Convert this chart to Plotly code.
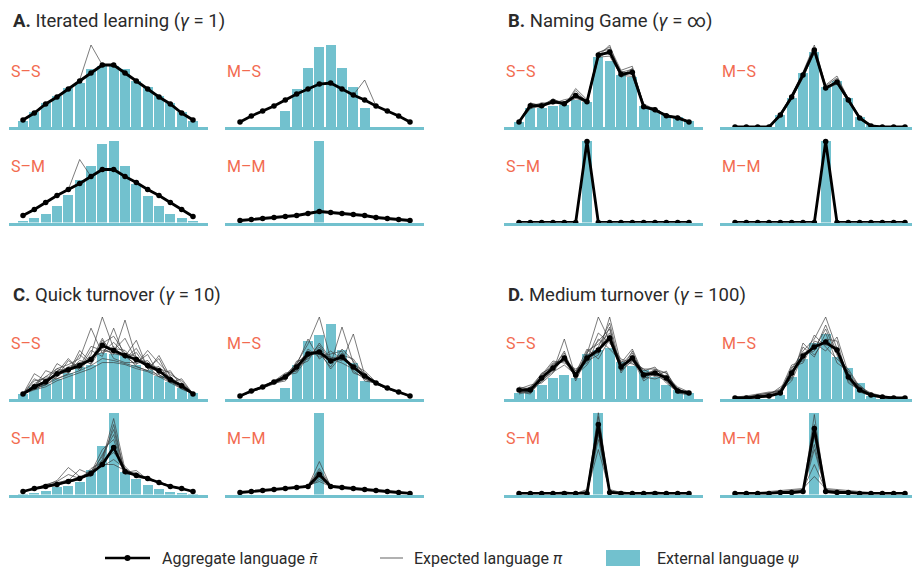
import plotly.graph_objects as go

W, H = 912, 568
FONT = "Roboto, sans-serif"
TEAL = "#72C1CE"
SALMON = "#F26B50"

positions = list(range(16))
panel_titles = {
    "A": "Iterated learning (<i>γ</i> = 1)",
    "B": "Naming Game (<i>γ</i> = ∞)",
    "C": "Quick turnover (<i>γ</i> = 10)",
    "D": "Medium turnover (<i>γ</i> = 100)",
}
subplot_labels = ["S–S", "M–S", "S–M", "M–M"]
legend_labels = [
    "Aggregate language <span style=\"font-family:'DejaVu Sans';font-style:italic;font-size:14px\">π\u0304</span>",
    "Expected language <i>π</i>",
    "External language <i>ψ</i>",
]

# ---------------- Panel A ----------------
A_SS_bar = [6, 15, 24, 31, 39, 44, 58, 61, 61, 58, 46, 40, 31, 24, 15, 6]
A_SS_agg = [7, 14, 23, 30, 38, 46, 54, 62, 62, 54, 46, 38, 30, 23, 14, 7]
A_SS_exp = [[7, 14, 22, 31, 38, 47, 82, 62, 61, 55, 45, 38, 31, 22, 15, 7]]

A_MS_bar = [0, 0, 0, 0, 16, 38, 59, 80, 82, 59, 40, 19, 0, 0, 0, 0]
A_MS_agg = [5, 11, 16, 21, 27, 33, 38, 43, 44, 38, 32, 27, 21, 16, 11, 5]
A_MS_exp = [[5, 11, 16, 21, 27, 33, 38, 43, 43, 38, 32, 47, 21, 16, 11, 5]]

A_SM_bar = [2, 5, 9, 17, 28, 43, 57, 79, 82, 57, 39, 27, 17, 9, 5, 2]
A_SM_agg = [7, 13, 20, 27, 33, 39, 46, 53, 53, 46, 40, 33, 27, 20, 13, 6]
A_SM_exp = [[7, 13, 20, 27, 33, 63, 46, 53, 53, 46, 40, 33, 27, 20, 13, 6]]

A_MM_bar = [0, 0, 0, 0, 0, 0, 0, 82, 0, 0, 0, 0, 0, 0, 0, 0]
A_MM_agg = [2, 3, 4, 5, 6, 7, 9, 11, 10, 9, 8, 7, 5, 4, 3, 2]
A_MM_exp = [[2, 3, 4, 5, 6, 7, 9, 12, 10, 9, 8, 7, 5, 4, 3, 2]]

# ---------------- Panel B ----------------
B_SS_bar = [5, 19, 19, 21, 22, 27, 25, 69, 65, 51, 49, 21, 17, 12, 10, 6]
B_SS_agg = [5, 21, 21, 25, 23, 31, 25, 71, 74, 52, 54, 20, 17, 11, 9, 5]
B_SS_exp = [
    [5, 23, 22, 27, 24, 33, 26, 74, 77, 54, 57, 21, 18, 12, 10, 5],
    [5, 20, 24, 23, 27, 29, 24, 70, 81, 50, 58, 22, 16, 13, 8, 5],
    [5, 22, 19, 26, 21, 38, 27, 72, 72, 55, 52, 19, 18, 10, 11, 5],
    [5, 19, 21, 24, 25, 30, 23, 68, 76, 49, 55, 23, 17, 12, 9, 5],
    [5, 24, 20, 28, 22, 36, 25, 73, 79, 56, 60, 20, 19, 11, 10, 5],
    [5, 18, 22, 23, 24, 28, 26, 69, 70, 51, 50, 21, 15, 12, 8, 5],
]

B_MS_bar = [0, 0, 0, 0, 12, 29, 54, 75, 40, 46, 29, 10, 2, 0, 0, 0]
B_MS_agg = [0, 0, 0, 0, 12, 30, 52, 77, 39, 45, 27, 9, 1, 0, 0, 0]
B_MS_exp = [
    [0, 0, 0, 0, 13, 32, 55, 82, 41, 49, 28, 10, 1, 0, 0, 0],
    [0, 0, 0, 0, 11, 28, 50, 74, 38, 43, 26, 8, 1, 0, 0, 0],
    [0, 0, 0, 0, 14, 31, 54, 79, 37, 47, 29, 10, 2, 0, 0, 0],
    [0, 0, 0, 0, 10, 29, 49, 75, 40, 44, 25, 9, 1, 0, 0, 0],
    [0, 0, 0, 0, 12, 33, 53, 78, 42, 51, 28, 8, 1, 0, 0, 0],
]

B_SM_bar = [0, 0, 0, 0, 0, 0, 82, 0, 0, 0, 0, 0, 0, 0, 0, 0]
B_SM_agg = [0, 0, 0, 0, 0, 0, 81, 0, 0, 0, 0, 0, 0, 0, 0, 0]
B_SM_exp = [
    [0, 0, 0, 0, 0, 0, 82, 0, 0, 0, 0, 0, 0, 0, 0, 0],
    [0, 0, 0, 0, 0, 0, 80, 0, 0, 0, 0, 0, 0, 0, 0, 0],
]

B_MM_bar = [0, 0, 0, 0, 0, 0, 0, 0, 82, 0, 0, 0, 0, 0, 0, 0]
B_MM_agg = [0, 0, 0, 0, 0, 0, 0, 0, 81, 0, 0, 0, 0, 0, 0, 0]
B_MM_exp = [
    [0, 0, 0, 0, 0, 0, 0, 0, 82, 0, 0, 0, 0, 0, 0, 0],
    [0, 0, 0, 0, 0, 0, 0, 0, 80, 0, 0, 0, 0, 0, 0, 0],
]

# ---------------- Panel C ----------------
C_SS_bar = [5, 12, 15, 20, 26, 32, 34, 45, 44, 42, 34, 29, 23, 17, 11, 6]
C_SS_agg = [5, 12, 17, 25, 29, 33, 39, 53, 48, 43, 39, 33, 28, 19, 13, 5]
C_SS_exp = [
    [5, 15, 22, 30, 34, 40, 70, 45, 52, 40, 46, 30, 32, 20, 14, 5],
    [5, 10, 14, 22, 38, 30, 44, 81, 50, 48, 35, 38, 26, 22, 12, 5],
    [5, 25, 18, 30, 26, 48, 36, 55, 62, 45, 42, 30, 40, 18, 15, 5],
    [5, 12, 28, 24, 32, 35, 40, 50, 44, 78, 40, 36, 25, 28, 12, 5],
    [5, 14, 16, 35, 28, 32, 52, 48, 46, 42, 58, 30, 28, 16, 20, 5],
    [5, 18, 20, 22, 30, 36, 38, 60, 40, 36, 36, 44, 24, 18, 10, 5],
    [5, 10, 15, 26, 40, 28, 42, 46, 56, 44, 32, 28, 43, 22, 13, 5],
    [5, 13, 22, 20, 25, 44, 34, 52, 48, 60, 38, 35, 30, 26, 16, 5],
    [5, 20, 14, 28, 30, 30, 48, 42, 70, 40, 50, 32, 22, 20, 12, 5],
    [5, 11, 19, 24, 27, 38, 35, 58, 45, 42, 34, 48, 35, 24, 18, 5],
    [5, 9, 12, 18, 22, 26, 30, 36, 36, 34, 30, 27, 22, 16, 10, 5],
    [5, 10, 14, 20, 24, 28, 33, 40, 38, 35, 32, 28, 24, 17, 11, 5],
]

C_MS_bar = [0, 0, 0, 0, 11, 34, 58, 64, 75, 49, 36, 18, 0, 0, 0, 0]
C_MS_agg = [3, 8, 12, 17, 22, 32, 45, 47, 38, 42, 32, 23, 16, 11, 7, 3]
C_MS_exp = [
    [3, 8, 12, 17, 24, 36, 55, 82, 40, 44, 30, 22, 16, 11, 7, 3],
    [3, 8, 12, 16, 20, 30, 42, 50, 35, 72, 36, 25, 16, 11, 7, 3],
    [3, 8, 13, 18, 26, 28, 48, 44, 42, 38, 65, 24, 17, 11, 7, 3],
    [3, 7, 11, 16, 18, 38, 40, 52, 36, 46, 28, 20, 15, 10, 6, 3],
    [3, 8, 12, 17, 22, 34, 60, 40, 48, 40, 34, 28, 17, 11, 7, 3],
    [3, 8, 12, 17, 25, 28, 44, 46, 32, 50, 38, 18, 16, 11, 7, 3],
    [3, 7, 11, 15, 20, 33, 38, 56, 40, 36, 30, 26, 15, 10, 7, 3],
    [3, 8, 13, 18, 23, 30, 50, 42, 45, 48, 26, 22, 16, 11, 7, 3],
    [3, 8, 12, 17, 21, 36, 46, 48, 30, 44, 40, 24, 17, 11, 7, 3],
    [3, 8, 12, 16, 24, 26, 42, 54, 38, 40, 32, 20, 16, 11, 7, 3],
]

C_SM_bar = [1, 2, 4, 8, 9, 13, 25, 49, 82, 23, 16, 10, 6, 3, 2, 1]
C_SM_agg = [3, 6, 8, 10, 13, 16, 21, 30, 47, 23, 19, 16, 12, 8, 6, 3]
C_SM_exp = [
    [3, 6, 9, 14, 27, 18, 22, 35, 76, 25, 20, 16, 12, 8, 6, 3],
    [3, 6, 8, 12, 14, 25, 20, 40, 60, 22, 24, 15, 12, 8, 6, 3],
    [3, 5, 8, 10, 12, 16, 24, 28, 35, 26, 18, 18, 11, 8, 5, 3],
    [3, 6, 9, 11, 15, 14, 26, 32, 70, 20, 22, 14, 13, 8, 6, 3],
    [3, 6, 8, 10, 13, 18, 18, 34, 42, 28, 17, 16, 12, 9, 6, 3],
    [3, 6, 8, 10, 12, 15, 22, 45, 55, 21, 20, 17, 11, 8, 6, 3],
    [3, 6, 10, 13, 20, 16, 20, 30, 30, 24, 19, 15, 12, 8, 6, 3],
    [3, 6, 8, 11, 14, 17, 23, 38, 65, 22, 21, 16, 12, 8, 6, 3],
]

C_MM_bar = [0, 0, 0, 0, 0, 0, 0, 82, 0, 0, 0, 0, 0, 0, 0, 0]
C_MM_agg = [2, 3, 4, 5, 6, 7, 8, 20, 8, 7, 6, 5, 4, 3, 2, 1]
C_MM_exp = [
    [2, 3, 4, 5, 6, 7, 9, 13, 8, 7, 6, 5, 4, 3, 2, 1],
    [2, 3, 4, 5, 6, 7, 8, 17, 9, 7, 6, 5, 4, 3, 2, 1],
    [2, 3, 4, 5, 6, 8, 8, 22, 8, 7, 6, 5, 4, 3, 2, 1],
    [2, 3, 4, 5, 6, 7, 9, 26, 9, 8, 6, 5, 4, 3, 2, 1],
    [2, 3, 4, 5, 6, 7, 8, 33, 8, 7, 6, 5, 4, 3, 2, 1],
    [2, 3, 4, 5, 6, 7, 8, 15, 9, 7, 6, 5, 4, 3, 2, 1],
    [2, 3, 4, 5, 6, 7, 9, 24, 8, 7, 6, 5, 4, 3, 2, 1],
    [2, 3, 4, 5, 6, 7, 8, 19, 9, 7, 6, 5, 4, 3, 2, 1],
]

# ---------------- Panel D ----------------
D_SS_bar = [6, 9, 14, 21, 24, 21, 45, 49, 51, 37, 33, 29, 22, 14, 9, 6]
D_SS_agg = [9, 9, 21, 31, 41, 24, 41, 49, 61, 32, 41, 24, 26, 21, 8, 6]
D_SS_exp = [
    [6, 12, 25, 28, 60, 22, 45, 82, 58, 30, 44, 20, 28, 26, 10, 6],
    [8, 6, 18, 35, 38, 28, 38, 44, 82, 35, 38, 26, 24, 18, 6, 4],
    [10, 14, 16, 26, 44, 20, 48, 55, 66, 28, 48, 22, 30, 22, 12, 7],
    [5, 8, 24, 38, 36, 30, 36, 60, 50, 38, 35, 30, 22, 28, 6, 6],
    [12, 10, 20, 30, 48, 18, 42, 46, 72, 26, 42, 28, 32, 18, 9, 5],
    [7, 5, 22, 34, 40, 26, 50, 40, 60, 34, 46, 22, 20, 24, 8, 8],
    [9, 11, 19, 27, 34, 24, 34, 52, 76, 30, 40, 18, 26, 20, 11, 4],
    [6, 9, 26, 32, 46, 20, 40, 66, 56, 40, 36, 26, 28, 16, 7, 6],
    [8, 12, 17, 29, 42, 28, 44, 50, 64, 36, 50, 24, 24, 22, 10, 5],
    [10, 7, 23, 36, 38, 22, 46, 58, 70, 28, 38, 30, 30, 26, 8, 7],
]

D_MS_bar = [0, 0, 0, 0, 4, 22, 40, 56, 65, 42, 31, 16, 3, 0, 0, 0]
D_MS_agg = [1, 1, 2, 3, 6, 26, 43, 52, 57, 49, 22, 9, 4, 2, 1, 1]
D_MS_exp = [
    [1, 2, 3, 4, 8, 30, 48, 60, 82, 50, 24, 10, 5, 2, 1, 1],
    [1, 1, 2, 4, 12, 20, 56, 44, 60, 58, 18, 8, 3, 2, 1, 1],
    [1, 2, 4, 6, 9, 34, 38, 64, 52, 40, 30, 12, 6, 3, 2, 1],
    [2, 3, 5, 7, 7, 22, 46, 50, 70, 44, 20, 14, 4, 2, 1, 1],
    [1, 1, 2, 3, 5, 28, 40, 56, 48, 62, 26, 7, 3, 1, 1, 1],
    [1, 2, 3, 5, 10, 24, 52, 42, 66, 36, 28, 11, 5, 2, 1, 1],
    [1, 1, 3, 4, 6, 32, 36, 58, 54, 52, 16, 9, 4, 2, 1, 1],
    [2, 2, 4, 6, 8, 18, 44, 48, 74, 46, 24, 13, 4, 2, 1, 1],
]

D_SM_bar = [0, 0, 0, 0, 0, 0, 0, 82, 0, 0, 0, 0, 0, 0, 0, 0]
D_SM_agg = [1, 1, 1, 1, 1, 1, 1, 70, 2, 1, 1, 1, 1, 1, 1, 1]
D_SM_exp = [
    [1, 2, 1, 1, 2, 1, 3, 45, 4, 1, 2, 1, 1, 2, 1, 1],
    [1, 1, 2, 1, 1, 2, 2, 55, 2, 3, 1, 1, 2, 1, 1, 1],
    [2, 1, 1, 2, 1, 1, 4, 60, 3, 1, 1, 2, 1, 1, 2, 1],
    [1, 1, 1, 1, 3, 1, 1, 66, 5, 2, 1, 1, 1, 1, 1, 1],
    [1, 2, 1, 1, 1, 2, 2, 72, 2, 1, 2, 1, 3, 1, 1, 1],
    [1, 1, 2, 1, 1, 1, 1, 78, 1, 1, 1, 1, 1, 2, 1, 1],
    [1, 1, 1, 2, 1, 1, 2, 82, 2, 1, 1, 2, 1, 1, 1, 1],
    [2, 1, 1, 1, 2, 1, 5, 62, 3, 2, 1, 1, 1, 1, 1, 1],
]

D_MM_bar = [0, 0, 0, 0, 0, 0, 0, 82, 0, 0, 0, 0, 0, 0, 0, 0]
D_MM_agg = [1, 1, 1, 1, 2, 2, 3, 66, 3, 2, 2, 1, 1, 1, 1, 1]
D_MM_exp = [
    [1, 2, 2, 3, 4, 5, 6, 18, 6, 5, 4, 3, 2, 2, 1, 1],
    [1, 1, 2, 2, 3, 4, 5, 30, 5, 4, 3, 2, 2, 1, 1, 1],
    [1, 1, 1, 2, 2, 3, 4, 45, 4, 3, 2, 2, 1, 1, 1, 1],
    [1, 1, 1, 1, 2, 2, 3, 58, 3, 2, 2, 1, 1, 1, 1, 1],
    [1, 1, 1, 1, 1, 2, 2, 70, 2, 2, 1, 1, 1, 1, 1, 1],
    [1, 1, 1, 1, 1, 1, 2, 80, 2, 1, 1, 1, 1, 1, 1, 1],
    [1, 1, 1, 1, 2, 2, 3, 50, 3, 2, 2, 1, 1, 1, 1, 1],
    [1, 1, 1, 1, 2, 2, 3, 62, 3, 2, 2, 1, 1, 1, 1, 1],
]

# ---------------- layout geometry (page pixels) ----------------
panel_data = {
    "A": [(A_SS_bar, A_SS_agg, A_SS_exp), (A_MS_bar, A_MS_agg, A_MS_exp),
          (A_SM_bar, A_SM_agg, A_SM_exp), (A_MM_bar, A_MM_agg, A_MM_exp)],
    "B": [(B_SS_bar, B_SS_agg, B_SS_exp), (B_MS_bar, B_MS_agg, B_MS_exp),
          (B_SM_bar, B_SM_agg, B_SM_exp), (B_MM_bar, B_MM_agg, B_MM_exp)],
    "C": [(C_SS_bar, C_SS_agg, C_SS_exp), (C_MS_bar, C_MS_agg, C_MS_exp),
          (C_SM_bar, C_SM_agg, C_SM_exp), (C_MM_bar, C_MM_agg, C_MM_exp)],
    "D": [(D_SS_bar, D_SS_agg, D_SS_exp), (D_MS_bar, D_MS_agg, D_MS_exp),
          (D_SM_bar, D_SM_agg, D_SM_exp), (D_MM_bar, D_MM_agg, D_MM_exp)],
}
UNIT = 170 / 15.0
left_cols = {"A": [(9, 23), (225, 240)], "C": [(9, 23), (225, 240)],
             "B": [(504, 519), (720, 735)], "D": [(504, 519), (720, 735)]}
col_right = {"A": [208, 424], "C": [208, 424], "B": [703, 912], "D": [703, 912]}
row_bottoms = {"A": [127, 222.5], "B": [127, 222.5], "C": [399, 494.5], "D": [399, 494.5]}
ROW_H = 82
title_pos = {"A": (11, 21), "B": (506, 21), "C": (11, 295), "D": (506, 295)}

def px_x(v):
    return v / W

def px_y(v):
    return 1 - v / H

fig = go.Figure()
layout = {}
annotations = []
k = 0
for p in ["A", "B", "C", "D"]:
    tx, ty = title_pos[p]
    annotations.append(dict(
        x=px_x(tx), y=px_y(ty), xref="paper", yref="paper", xanchor="left", yanchor="middle",
        text=f"<b>{p}.</b> {panel_titles[p]}", showarrow=False,
        font=dict(family=FONT, size=18.5, color="#2a2a2a")))
    for s in range(4):
        r, c = divmod(s, 2)
        k += 1
        bar, agg, exp = panel_data[p][s]
        xl, x0 = left_cols[p][c]
        xr = col_right[p][c]
        yb = row_bottoms[p][r]
        xa = "x" if k == 1 else f"x{k}"
        ya = "y" if k == 1 else f"y{k}"
        fig.add_trace(go.Bar(x=positions, y=bar, width=0.87, marker=dict(color=TEAL, line=dict(width=0)),
                             xaxis=xa, yaxis=ya, showlegend=False, hoverinfo="skip"))
        for e in exp:
            fig.add_trace(go.Scatter(x=positions, y=e, mode="lines",
                                     line=dict(color="rgba(60,60,60,0.75)", width=0.9),
                                     xaxis=xa, yaxis=ya, showlegend=False, hoverinfo="skip"))
        fig.add_trace(go.Scatter(x=positions, y=agg, mode="lines+markers",
                                 line=dict(color="black", width=2.8),
                                 marker=dict(color="black", size=5.5),
                                 cliponaxis=False,
                                 xaxis=xa, yaxis=ya, showlegend=False, hoverinfo="skip"))
        ymax = max(max(bar), max(agg), max(max(e) for e in exp))
        lo = -(x0 - xl) / UNIT
        hi = (xr - x0) / UNIT
        layout["xaxis" if k == 1 else f"xaxis{k}"] = dict(
            domain=[px_x(xl), px_x(xr)], range=[lo, hi], anchor=ya,
            showgrid=False, zeroline=False, showticklabels=False, ticks="",
            showline=True, linecolor=TEAL, linewidth=2.5)
        layout["yaxis" if k == 1 else f"yaxis{k}"] = dict(
            domain=[px_y(yb), px_y(yb - ROW_H)], range=[0, ymax], anchor=xa,
            visible=False, showgrid=False, zeroline=False)
        annotations.append(dict(
            x=px_x(xl), y=px_y(yb - 56), xref="paper", yref="paper",
            xanchor="left", yanchor="middle", text=subplot_labels[s], showarrow=False,
            font=dict(family=FONT, size=16, color=SALMON)))

# legend (manual)
LY = 558
shapes = [
    dict(type="line", xref="paper", yref="paper", x0=px_x(105), x1=px_x(150), y0=px_y(LY), y1=px_y(LY),
         line=dict(color="black", width=2.6)),
    dict(type="circle", xref="paper", yref="paper", x0=px_x(124.5), x1=px_x(130.5), y0=px_y(LY - 3), y1=px_y(LY + 3),
         fillcolor="black", line=dict(color="black", width=0)),
    dict(type="line", xref="paper", yref="paper", x0=px_x(380), x1=px_x(403), y0=px_y(LY), y1=px_y(LY),
         line=dict(color="rgba(60,60,60,0.8)", width=1)),
    dict(type="rect", xref="paper", yref="paper", x0=px_x(606), x1=px_x(640), y0=px_y(LY + 8), y1=px_y(LY - 8),
         fillcolor=TEAL, line=dict(width=0)),
]
for lx, txt in zip([160, 412, 655], legend_labels):
    annotations.append(dict(x=px_x(lx), y=px_y(LY), xref="paper", yref="paper", xanchor="left",
                            yanchor="middle", text=txt, showarrow=False,
                            font=dict(family=FONT, size=16, color="#2a2a2a")))

fig.update_layout(
    width=W, height=H, margin=dict(l=0, r=0, t=0, b=0),
    paper_bgcolor="white", plot_bgcolor="white",
    showlegend=False, barmode="overlay", bargap=0,
    annotations=annotations, shapes=shapes, **layout)

fig.write_html(
    "out.html",
    config={"displayModeBar": False},
    post_script="document.body.style.margin='0';document.body.style.overflow='hidden';"
                "document.documentElement.style.overflow='hidden';")
